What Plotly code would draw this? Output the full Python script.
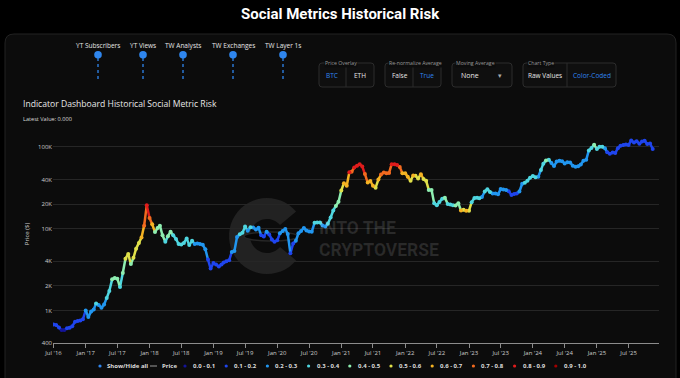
import numpy as np
import pandas as pd
import plotly.graph_objects as go

# ---------------- data ----------------
main_title = "Social Metrics Historical Risk"
chart_title = "Indicator Dashboard Historical Social Metric Risk"
latest_label = "Latest Value: 0.000"

# semi-monthly observation dates (1st and 16th of each month)
months = pd.date_range("2016-07-01", "2025-11-01", freq="MS")
dates = []
for m in months:
    dates.append(m)
    dates.append(m + pd.Timedelta(days=15))

price_2016 = [675, 665, 620, 575, 575, 607, 615, 640, 730, 745, 755, 780]
price_2017 = [1000, 830, 970, 1030, 1220, 1170, 1080, 1180, 1420, 1730, 2400, 2500,
              2450, 1930, 2870, 4300, 4900, 3700, 4400, 5700, 6700, 7800, 10900, 19300]
price_2018 = [13500, 11300, 9100, 10200, 10900, 8300, 6900, 8100, 9200, 8300, 7500, 6500,
              6400, 6700, 7600, 6300, 7100, 6500, 6600, 6500, 6350, 5600, 4200, 3250]
price_2019 = [3800, 3650, 3450, 3650, 3850, 4000, 4100, 5200, 5350, 7900, 8550, 8900,
              10600, 9450, 10400, 10350, 9750, 10250, 8300, 8000, 9200, 8500, 7400, 6900]
price_2020 = [7200, 8800, 9400, 9900, 8600, 5000, 6600, 7100, 8800, 9400, 10200, 9500,
              9230, 9150, 11800, 11900, 11900, 10950, 10600, 11500, 13700, 16700, 19000, 21300]
price_2021 = [29300, 36000, 33500, 49000, 49600, 56000, 59000, 61500, 57800, 46500, 36600, 38300,
              33500, 31700, 39900, 46000, 48800, 47800, 48100, 61500, 61300, 60300, 57000, 47600]
price_2022 = [47700, 43100, 38500, 44600, 44400, 41100, 46300, 40500, 38500, 29800, 29800, 20400,
              19300, 21200, 23300, 23900, 20100, 19700, 19300, 19200, 20500, 16700, 17000, 16600]
price_2023 = [16600, 21100, 23700, 23900, 23600, 24400, 28500, 30300, 28100, 27000, 27000, 26300,
              30500, 30250, 29700, 28700, 25900, 26600, 27000, 28500, 35400, 36500, 38700, 42000]
price_2024 = [44200, 42500, 43100, 52100, 62400, 68400, 69700, 63400, 58300, 66200, 67700, 66600,
              62900, 64800, 64600, 58900, 57300, 58200, 60800, 67600, 69500, 90600, 97200, 106000]
price_2025 = [94400, 100500, 100600, 96100, 86100, 82700, 85200, 84000, 96500, 103500, 105700, 106800,
              105700, 119800, 113300, 117500, 109200, 116800, 118600, 108200, 110000, 94500]

risk_2016 = [0.12, 0.12, 0.10, 0.08, 0.08, 0.10, 0.10, 0.12, 0.15, 0.15, 0.15, 0.17]
risk_2017 = [0.28, 0.22, 0.25, 0.27, 0.32, 0.28, 0.24, 0.26, 0.30, 0.36, 0.42, 0.44,
             0.42, 0.35, 0.43, 0.50, 0.52, 0.45, 0.50, 0.55, 0.58, 0.62, 0.70, 0.88]
risk_2018 = [0.72, 0.62, 0.45, 0.48, 0.47, 0.40, 0.35, 0.40, 0.42, 0.38, 0.35, 0.32,
             0.30, 0.33, 0.36, 0.30, 0.32, 0.28, 0.27, 0.26, 0.25, 0.20, 0.14, 0.12]
risk_2019 = [0.15, 0.14, 0.12, 0.13, 0.14, 0.15, 0.16, 0.20, 0.20, 0.28, 0.30, 0.30,
             0.35, 0.28, 0.30, 0.27, 0.25, 0.25, 0.18, 0.17, 0.22, 0.18, 0.15, 0.13]
risk_2020 = [0.14, 0.22, 0.25, 0.28, 0.22, 0.12, 0.18, 0.20, 0.25, 0.26, 0.28, 0.24,
             0.23, 0.22, 0.32, 0.33, 0.30, 0.26, 0.25, 0.30, 0.35, 0.38, 0.42, 0.45]
risk_2021 = [0.55, 0.65, 0.62, 0.80, 0.78, 0.85, 0.85, 0.88, 0.82, 0.72, 0.65, 0.62,
             0.60, 0.58, 0.66, 0.75, 0.78, 0.72, 0.75, 0.85, 0.85, 0.82, 0.75, 0.65]
risk_2022 = [0.62, 0.60, 0.55, 0.62, 0.58, 0.55, 0.60, 0.52, 0.50, 0.42, 0.45, 0.32,
             0.35, 0.36, 0.38, 0.40, 0.35, 0.36, 0.38, 0.40, 0.45, 0.62, 0.58, 0.60]
risk_2023 = [0.55, 0.30, 0.35, 0.33, 0.30, 0.28, 0.33, 0.35, 0.30, 0.27, 0.25, 0.23,
             0.25, 0.22, 0.20, 0.18, 0.15, 0.14, 0.16, 0.20, 0.28, 0.30, 0.32, 0.35]
risk_2024 = [0.33, 0.30, 0.28, 0.30, 0.35, 0.40, 0.30, 0.22, 0.20, 0.25, 0.25, 0.22,
             0.20, 0.25, 0.22, 0.20, 0.20, 0.22, 0.22, 0.25, 0.25, 0.30, 0.38, 0.40]
risk_2025 = [0.32, 0.35, 0.30, 0.22, 0.15, 0.12, 0.15, 0.14, 0.15, 0.14, 0.13, 0.12,
             0.12, 0.15, 0.12, 0.13, 0.11, 0.12, 0.12, 0.10, 0.10, 0.10]

price = (price_2016 + price_2017 + price_2018 + price_2019 + price_2020 + price_2021
         + price_2022 + price_2023 + price_2024 + price_2025)
risk = (risk_2016 + risk_2017 + risk_2018 + risk_2019 + risk_2020 + risk_2021
        + risk_2022 + risk_2023 + risk_2024 + risk_2025)
dates = dates[:len(price)]

bucket_labels = ["0.0 - 0.1", "0.1 - 0.2", "0.2 - 0.3", "0.3 - 0.4", "0.4 - 0.5",
                 "0.5 - 0.6", "0.6 - 0.7", "0.7 - 0.8", "0.8 - 0.9", "0.9 - 1.0"]
bucket_colors = ["#14149a", "#1f45ee", "#2196f0", "#4fd6e0", "#8eeeb0",
                 "#dfe04a", "#f5b323", "#f26a1f", "#e01c1c", "#a30000"]

ytick_vals = [400, 1000, 2000, 4000, 10000, 20000, 40000, 100000]
ytick_text = ["400", "1K", "2K", "4K", "10K", "20K", "40K", "100K"]

toggle_labels = ["YT Subscribers", "YT Views", "TW Analysts", "TW Exchanges", "TW Layer 1s"]

# ---------------- layout helpers ----------------
W, H = 680, 378
ML, MR, MT, MB = 53, 21, 125, 35
PW, PH = W - ML - MR, H - MT - MB


def px(x):
    return (x - ML) / PW


def py(y):
    return (H - MB - y) / PH


def rrect(x0, y0, x1, y1, r):
    p = (f"M {px(x0 + r)} {py(y0)} L {px(x1 - r)} {py(y0)} "
         f"Q {px(x1)} {py(y0)} {px(x1)} {py(y0 + r)} L {px(x1)} {py(y1 - r)} "
         f"Q {px(x1)} {py(y1)} {px(x1 - r)} {py(y1)} L {px(x0 + r)} {py(y1)} "
         f"Q {px(x0)} {py(y1)} {px(x0)} {py(y1 - r)} L {px(x0)} {py(y0 + r)} "
         f"Q {px(x0)} {py(y0)} {px(x0 + r)} {py(y0)} Z")
    return p


BG = "#000000"
CARD = "#0c0c0c"
FONT = "Open Sans, Roboto, sans-serif"
BLUE = "#2f86ee"

fig = go.Figure()

# ---------------- traces ----------------
bidx = [min(int(r * 10), 9) for r in risk]
for b in range(10):
    lx, ly = [], []
    for i in range(len(price) - 1):
        if bidx[i] == b:
            lx += [dates[i], dates[i + 1], None]
            ly += [price[i], price[i + 1], None]
    fig.add_trace(go.Scatter(x=lx, y=ly, mode="lines", line=dict(color=bucket_colors[b], width=2.5),
                             hoverinfo="skip", showlegend=False))
for b in range(10):
    xs = [d for d, k in zip(dates, bidx) if k == b]
    ys = [p for p, k in zip(price, bidx) if k == b]
    fig.add_trace(go.Scatter(x=xs, y=ys, mode="markers", name=bucket_labels[b],
                             marker=dict(color=bucket_colors[b], size=4), showlegend=False))

# ---------------- shapes ----------------
shapes = []
# card
shapes.append(dict(type="path", xref="paper", yref="paper", layer="below",
                   path=rrect(5, 34, 676, 400, 9), fillcolor=CARD,
                   line=dict(color="#222222", width=1)))

# watermark C ring
cx, cy, ro, ri = 267, 236, 38, 17
angs = np.linspace(np.deg2rad(40), np.deg2rad(320), 40)
outer = [(cx + ro * np.cos(a), cy - ro * np.sin(a)) for a in angs]
inner = [(cx + ri * np.cos(a), cy - ri * np.sin(a)) for a in angs[::-1]]
pts = outer + inner
cpath = "M " + " L ".join(f"{px(x):.5f} {py(y):.5f}" for x, y in pts) + " Z"
shapes.append(dict(type="path", xref="paper", yref="paper", layer="below", path=cpath,
                   fillcolor="#222222", line=dict(width=0)))
shapes.append(dict(type="circle", xref="paper", yref="paper", layer="below",
                   x0=px(244), x1=px(298), y0=py(241), y1=py(232),
                   fillcolor="#050505", line=dict(color="#262626", width=1.5)))

annotations = []


def txt(x, y, s, size, color="#e6e6e6", anchor="center", bold=False, family=FONT, bg=None):
    d = dict(x=px(x), y=py(y), xref="paper", yref="paper", text=s, showarrow=False,
             xanchor=anchor, yanchor="middle",
             font=dict(size=size, color=color, family=family,
                       weight="bold" if bold else "normal"))
    if bg:
        d["bgcolor"] = bg
        d["borderpad"] = 0
    annotations.append(d)


# main title
txt(340, 14, main_title, 15, color="#ffffff", bold=True, family="Roboto, sans-serif")

# toggles
tog_x = [98, 143, 183, 233, 283]
for lab, x in zip(toggle_labels, tog_x):
    txt(x, 45.5, lab, 6.5)
    shapes.append(dict(type="line", xref="paper", yref="paper", x0=px(x), x1=px(x),
                       y0=py(58), y1=py(82), line=dict(color=BLUE, width=1.3, dash="dot")))
    shapes.append(dict(type="circle", xref="paper", yref="paper", x0=px(x - 3.8), x1=px(x + 3.8),
                       y0=py(58.5), y1=py(51), fillcolor=BLUE, line=dict(width=0)))

# button groups
groups = [
    (319, 374, [346], "Price Overlay", 324),
    (385, 441, [413], "Re-normalize Average", 388),
    (452, 512, [], "Moving Average", 455),
    (523, 616, [567], "Chart Type", 527),
]
for x0, x1, divs, lab, lx in groups:
    shapes.append(dict(type="path", xref="paper", yref="paper", path=rrect(x0, 63, x1, 87, 3),
                       fillcolor="#0f0f0f", line=dict(color="#2c2c2c", width=1)))
    for d in divs:
        shapes.append(dict(type="line", xref="paper", yref="paper", x0=px(d), x1=px(d),
                           y0=py(63), y1=py(87), line=dict(color="#2c2c2c", width=1)))
    txt(lx, 63, lab, 5.2, color="#9a9a9a", anchor="left", bg=CARD)

txt(332, 76, "BTC", 6.5, color=BLUE)
txt(360, 76, "ETH", 6.5)
txt(400, 76, "False", 6.5)
txt(427, 76, "True", 6.5, color=BLUE)
txt(459, 76, "None", 7, anchor="left")
txt(500, 76, "\u25be", 6.5, color="#aaaaaa")
txt(545, 76, "Raw Values", 6.5)
txt(592, 76, "Color-Coded", 6.5, color=BLUE)

# chart titles
txt(21, 104, chart_title, 8.6, color="#e8e8e8", anchor="left")
txt(21, 119, latest_label, 5.6, color="#dddddd", anchor="left")

# watermark text
txt(317, 228, "INTO THE", 17.5, color="rgba(255,255,255,0.12)", anchor="left", bold=True,
    family="Roboto, sans-serif")
txt(317, 250, "CRYPTOVERSE", 17.5, color="rgba(255,255,255,0.12)", anchor="left", bold=True,
    family="Roboto, sans-serif")

# manual legend
LY = 366
shapes.append(dict(type="circle", xref="paper", yref="paper", x0=px(98.4), x1=px(101.6),
                   y0=py(LY + 1.6), y1=py(LY - 1.6), fillcolor=BLUE, line=dict(width=0)))
txt(105, LY, "Show/Hide all", 6, color="#dddddd", anchor="left", bold=True)
shapes.append(dict(type="line", xref="paper", yref="paper", x0=px(150), x1=px(157),
                   y0=py(LY), y1=py(LY), line=dict(color="#9a9a9a", width=1)))
txt(160, LY, "Price", 6, color="#dddddd", anchor="left", bold=True)
for b in range(10):
    mx = 185 + 41.2 * b
    shapes.append(dict(type="circle", xref="paper", yref="paper", x0=px(mx - 1.6), x1=px(mx + 1.6),
                       y0=py(LY + 1.6), y1=py(LY - 1.6), fillcolor=bucket_colors[b], line=dict(width=0)))
    txt(mx + 6, LY, bucket_labels[b], 6, color="#dddddd", anchor="left", bold=True)

fig.update_layout(
    width=W, height=H,
    margin=dict(l=ML, r=MR, t=MT, b=MB, pad=0),
    paper_bgcolor=BG, plot_bgcolor="rgba(0,0,0,0)",
    showlegend=False,
    shapes=shapes, annotations=annotations,
    font=dict(family=FONT, color="#cccccc"),
    xaxis=dict(type="date", range=["2016-06-28", "2025-12-22"], dtick="M6", tick0="2016-07-01",
               tickformat="%b '%y", showgrid=False, showline=True, linecolor="#8c8c8c",
               ticks="outside", ticklen=4, tickcolor="#8c8c8c", zeroline=False,
               tickfont=dict(size=6, color="#cccccc")),
    yaxis=dict(type="log", range=[np.log10(400), 5.268], tickvals=ytick_vals, ticktext=ytick_text,
               showgrid=True, gridcolor="#262626", gridwidth=1, zeroline=False, showline=False,
               tickfont=dict(size=6, color="#cccccc"),
               title=dict(text="Price ($)", font=dict(size=6, color="#cccccc"), standoff=7)),
)

fig.write_html("out.html", config={"displayModeBar": False},
               post_script="document.body.style.margin='0';document.body.style.background='#000';")
